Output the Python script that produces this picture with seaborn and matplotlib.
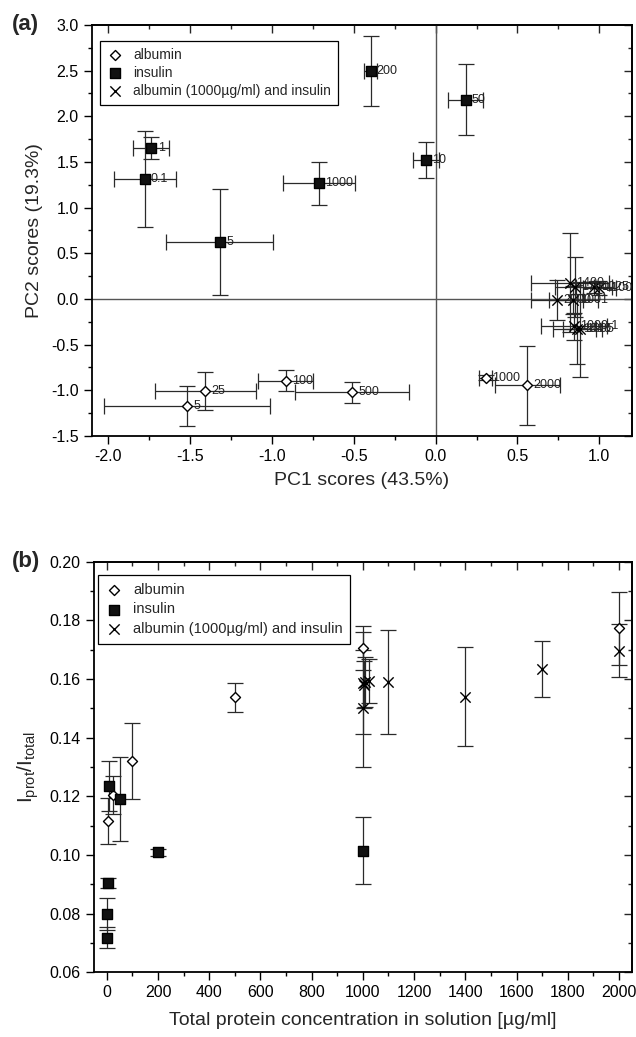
import numpy as np
import matplotlib
matplotlib.use('Agg')
import matplotlib.pyplot as plt
from matplotlib.ticker import MultipleLocator
import seaborn as sns

# ---- panel (a): PCA scores ----
alb_lab = ['5', '25', '100', '500', '1000', '2000']
alb_pc1 = [-1.519, -1.407, -0.917, -0.51, 0.306, 0.561]
alb_pc2 = [-1.172, -1.011, -0.895, -1.022, -0.862, -0.945]
alb_pc1_err = [0.508, 0.309, 0.17, 0.35, 0.04, 0.197]
alb_pc2_err = [0.22, 0.21, 0.115, 0.113, 0.03, 0.43]

ins_lab = ['0.1', '1', '5', '10', '50', '200', '1000']
ins_pc1 = [-1.778, -1.737, -1.319, -0.061, 0.183, -0.398, -0.714]
ins_pc2 = [1.314, 1.657, 0.62, 1.519, 2.18, 2.497, 1.267]
ins_pc1_err = [0.19, 0.11, 0.326, 0.08, 0.105, 0.037, 0.22]
ins_pc2_err = [0.525, 0.12, 0.58, 0.195, 0.39, 0.38, 0.233]

mix_lab = ['1000.1', '1001', '1005', '1010', '1025', '1100', '1400', '1700', '2000']
mix_pc1 = [0.846, 0.842, 0.88, 0.865, 0.97, 1.0, 0.822, 0.85, 0.74]
mix_pc2 = [-0.30, -0.01, -0.33, -0.33, 0.13, 0.12, 0.179, 0.128, -0.01]
mix_pc1_err = [0.2, 0.15, 0.1, 0.15, 0.11, 0.1, 0.24, 0.12, 0.16]
mix_pc2_err = [0.15, 0.15, 0.52, 0.38, 0.06, 0.08, 0.54, 0.33, 0.22]

# ---- panel (b): intensity ratio vs concentration ----
alb_conc = [5, 25, 100, 500, 1000, 2000]
alb_ratio = [0.1116, 0.1205, 0.132, 0.1538, 0.1705, 0.1773]
alb_ratio_err = [0.008, 0.0064, 0.013, 0.005, 0.0075, 0.0124]

ins_conc = [0.1, 1, 5, 10, 50, 200, 1000]
ins_ratio = [0.0798, 0.0718, 0.0906, 0.1235, 0.119, 0.1009, 0.1015]
ins_ratio_err = [0.0055, 0.0035, 0.0017, 0.0085, 0.0143, 0.0012, 0.0113]

mix_conc = [1000.1, 1001, 1005, 1010, 1025, 1100, 1400, 1700, 2000]
mix_ratio = [0.150, 0.1587, 0.158, 0.1591, 0.1595, 0.1591, 0.154, 0.1634, 0.1697]
mix_ratio_err = [0.020, 0.0175, 0.008, 0.0085, 0.0075, 0.0177, 0.0169, 0.0095, 0.009]

legend_names = ['albumin', 'insulin', 'albumin (1000\u00b5g/ml) and insulin']

sns.set_theme(style='ticks')
plt.rcParams['font.family'] = ['Liberation Sans', 'DejaVu Sans']
plt.rcParams['axes.unicode_minus'] = False
plt.rcParams['mathtext.default'] = 'regular'

fig = plt.figure(figsize=(6.36, 10.37), dpi=100)
ax1 = fig.add_axes([0.1447, 0.5796, 0.849, 0.3963])
ax2 = fig.add_axes([0.1478, 0.0624, 0.8455, 0.3959])

ecol = '#2a2a2a'


def draw_group(ax, x, y, xerr, yerr, marker, size, face, label):
    ax.errorbar(x, y, xerr=xerr, yerr=yerr, fmt='none', ecolor=ecol,
                elinewidth=0.9, capsize=6, capthick=0.9, zorder=2)
    if marker == 'x':
        sns.scatterplot(x=x, y=y, marker='x', s=size, color='black',
                        linewidth=1.0, label=label, ax=ax, zorder=3)
    else:
        sns.scatterplot(x=x, y=y, marker=marker, s=size, color=face,
                        edgecolor='black', linewidth=1.0, label=label, ax=ax, zorder=3)


def style_axes(ax, xmaj, xmin, ymaj, ymin):
    for sp in ax.spines.values():
        sp.set_visible(True)
        sp.set_linewidth(1.3)
        sp.set_color('black')
    ax.xaxis.set_major_locator(MultipleLocator(xmaj))
    ax.xaxis.set_minor_locator(MultipleLocator(xmin))
    ax.yaxis.set_major_locator(MultipleLocator(ymaj))
    ax.yaxis.set_minor_locator(MultipleLocator(ymin))
    ax.tick_params(which='both', direction='out', top=False, right=False,
                   colors='black', labelsize=11.5, width=1.0)
    ax.tick_params(which='major', length=6)
    ax.tick_params(which='minor', length=3)
    top = ax.secondary_xaxis('top')
    top.xaxis.set_major_locator(MultipleLocator(xmaj))
    top.xaxis.set_minor_locator(MultipleLocator(xmin))
    top.tick_params(which='both', direction='in', labeltop=False, width=1.0)
    top.tick_params(which='major', length=6)
    top.tick_params(which='minor', length=3)
    top.spines['top'].set_linewidth(1.3)
    right = ax.secondary_yaxis('right')
    right.yaxis.set_major_locator(MultipleLocator(ymaj))
    right.yaxis.set_minor_locator(MultipleLocator(ymin))
    right.tick_params(which='both', direction='in', labelright=False, width=1.0)
    right.tick_params(which='major', length=6)
    right.tick_params(which='minor', length=3)
    right.spines['right'].set_linewidth(1.3)


def make_legend(ax, anchor, fs, spacing):
    leg = ax.legend(loc='upper left', bbox_to_anchor=anchor, borderaxespad=0,
                    fontsize=fs, frameon=True, fancybox=False, framealpha=1,
                    edgecolor='black', labelspacing=spacing, handletextpad=0.7,
                    borderpad=0.5, handlelength=1.2)
    leg.get_frame().set_linewidth(0.9)


# ---- panel (a) ----
ax1.axhline(0, color='#555555', lw=1.0, zorder=1)
ax1.axvline(0, color='#555555', lw=1.0, zorder=1)
draw_group(ax1, alb_pc1, alb_pc2, alb_pc1_err, alb_pc2_err, 'D', 26, 'white', legend_names[0])
draw_group(ax1, ins_pc1, ins_pc2, ins_pc1_err, ins_pc2_err, 's', 62, '#111111', legend_names[1])
draw_group(ax1, mix_pc1, mix_pc2, mix_pc1_err, mix_pc2_err, 'x', 55, 'black', legend_names[2])

for xs, ys, labs in [(alb_pc1, alb_pc2, alb_lab), (ins_pc1, ins_pc2, ins_lab),
                     (mix_pc1, mix_pc2, mix_lab)]:
    for xv, yv, t in zip(xs, ys, labs):
        ax1.annotate(t, (xv, yv), xytext=(4.5, 0), textcoords='offset points',
                     va='center', ha='left', fontsize=9, color='#222222', zorder=4)

ax1.set_xlim(-2.1, 1.2)
ax1.set_ylim(-1.5, 3.0)
style_axes(ax1, 0.5, 0.25, 0.5, 0.25)
ax1.set_xlabel('PC1 scores (43.5%)', fontsize=14, labelpad=6)
ax1.set_ylabel('PC2 scores (19.3%)', fontsize=14, labelpad=6)
make_legend(ax1, (0.015, 0.962), 10, 0.3)
ax1.text(-0.148, 1.0, '(a)', transform=ax1.transAxes, fontsize=16,
         fontweight='bold', ha='left', va='center')

# ---- panel (b) ----
draw_group(ax2, alb_conc, alb_ratio, None, alb_ratio_err, 'D', 26, 'white', legend_names[0])
draw_group(ax2, ins_conc, ins_ratio, None, ins_ratio_err, 's', 62, '#111111', legend_names[1])
draw_group(ax2, mix_conc, mix_ratio, None, mix_ratio_err, 'x', 55, 'black', legend_names[2])

ax2.set_xlim(-50, 2050)
ax2.set_ylim(0.06, 0.20)
style_axes(ax2, 200, 100, 0.02, 0.01)
ax2.set_xlabel('Total protein concentration in solution [\u00b5g/ml]', fontsize=14, labelpad=8)
ax2.set_ylabel(r'$I_{prot}/I_{total}$', fontsize=15, labelpad=6)
make_legend(ax2, (0.008, 0.967), 10.5, 0.4)
ax2.text(-0.152, 1.0, '(b)', transform=ax2.transAxes, fontsize=16,
         fontweight='bold', ha='left', va='center')

fig.savefig('out.png', dpi=100)
